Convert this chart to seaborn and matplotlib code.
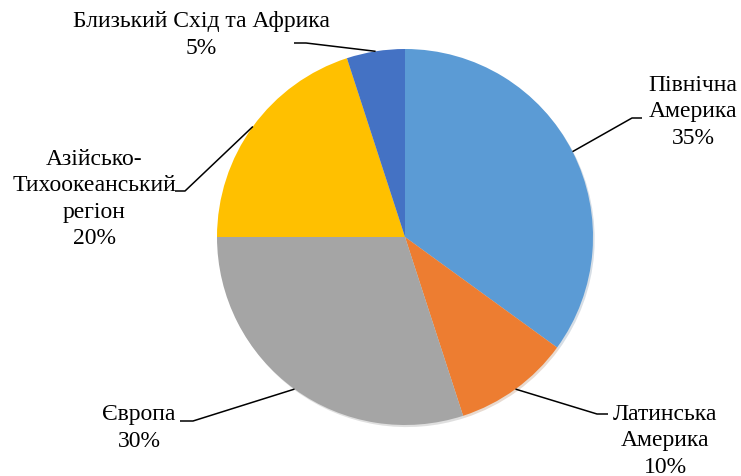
import numpy as np
import matplotlib
matplotlib.use("Agg")
import matplotlib.pyplot as plt
import seaborn as sns

regions = ["Північна\nАмерика", "Латинська\nАмерика", "Європа", "Азійсько-\nТихоокеанський\nрегіон", "Близький Схід та Африка"]
shares = [35, 10, 30, 20, 5]
colors = ["#5B9BD5", "#ED7D31", "#A5A5A5", "#FFC000", "#4472C4"]

sns.set_theme(style="white")
plt.rcParams["font.family"] = ["Liberation Serif", "DejaVu Serif"]

W, H = 741, 477
fig = plt.figure(figsize=(W / 100, H / 100), dpi=100)
ax = fig.add_axes([0, 0, 1, 1])

cx, cy, r = 405, H - 238, 188
wedges, _ = ax.pie(shares, colors=colors, startangle=90, counterclock=False,
                   center=(cx, cy), radius=r, frame=True,
                   wedgeprops=dict(linewidth=0),
                   shadow=dict(ox=1.2, oy=-1.5, shade=0.4, alpha=0.2))
ax.set_xlim(0, W)
ax.set_ylim(0, H)
ax.set_aspect("equal")
ax.axis("off")

# label layout (pixels from top): text block center, elbow point, horizontal end x
layout = [
    dict(tx=693, ty=112, ex=632, ey=119, hx=642),  # North America
    dict(tx=665, ty=441, ex=597, ey=415, hx=608),  # Latin America
    dict(tx=139, ty=428, ex=193, ey=422, hx=180),  # Europe
    dict(tx=94, ty=199, ex=185, ey=192, hx=175),   # Asia-Pacific
    dict(tx=201, ty=35, ex=306, ey=44, hx=294),    # Middle East & Africa
]

fs = 17
for w, lab, s, L in zip(wedges, regions, shares, layout):
    ang = np.deg2rad((w.theta1 + w.theta2) / 2)
    px, py = cx + r * np.cos(ang), cy + r * np.sin(ang)
    ex, ey = L["ex"], H - L["ey"]
    ax.plot([px, ex, L["hx"]], [py, ey, ey], color="black", lw=1.1, solid_capstyle="butt")
    text = f"{lab}\n{s}%"
    ax.text(L["tx"], H - L["ty"], text, ha="center", va="center", fontsize=fs,
            linespacing=1.32, color="black", multialignment="center")

fig.savefig("out.png", dpi=100)
